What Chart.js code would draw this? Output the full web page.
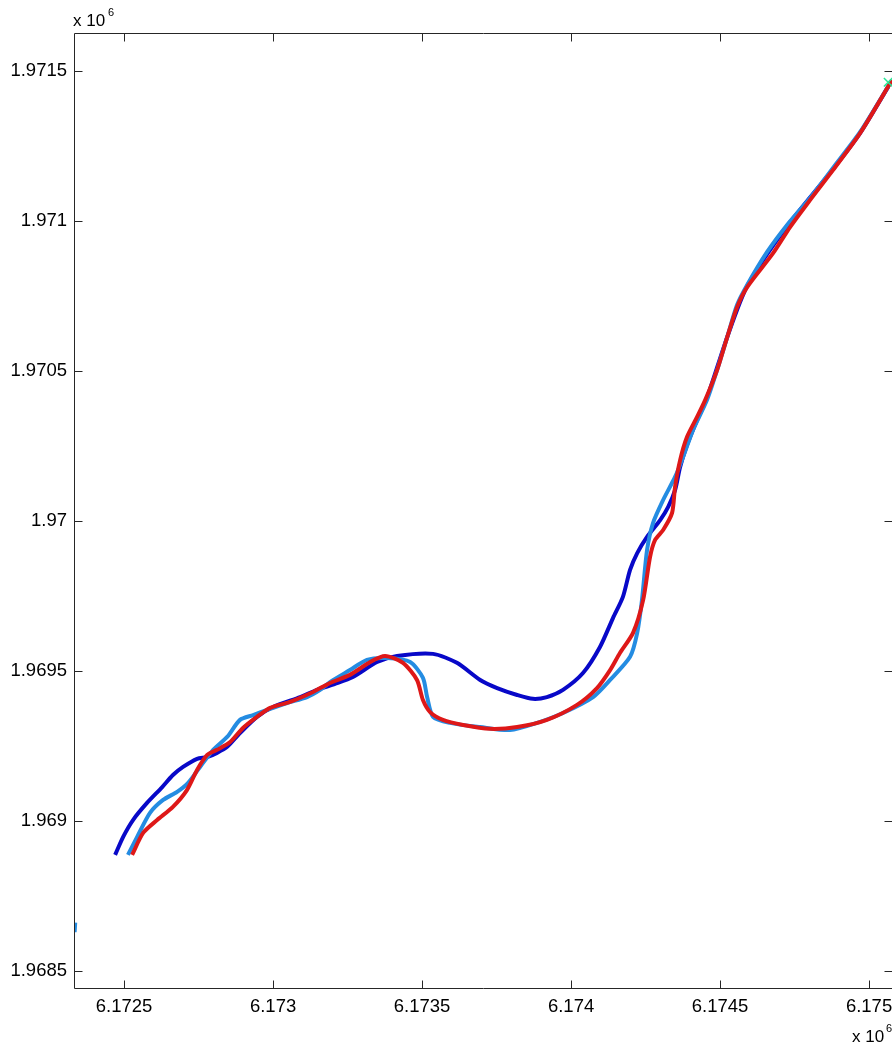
<!DOCTYPE html>
<html>
<head>
<meta charset="utf-8">
<script src="https://cdn.jsdelivr.net/npm/chart.js@4/dist/chart.umd.min.js"></script>
<style>
html,body{margin:0;padding:0;background:#fff;}
#wrap{width:892px;height:1046px;position:relative;}
</style>
</head>
<body>
<div id="wrap"><canvas id="c" width="892" height="1046"></canvas></div>
<script>
// Tick values and labels (coordinates in metres; axis labels in units of 10^6)
const xTickValues = [6172500, 6173000, 6173500, 6174000, 6174500, 6175000];
const xTickLabels = ['6.1725', '6.173', '6.1735', '6.174', '6.1745', '6.175'];
const yTickValues = [1968500, 1969000, 1969500, 1970000, 1970500, 1971000, 1971500];
const yTickLabels = ['1.9685', '1.969', '1.9695', '1.97', '1.9705', '1.971', '1.9715'];

// Dark blue track
const darkBlueX = [6172470,6172497,6172530,6172577,6172628,6172664,6172698,6172745,6172779,6172812,6172846,6172889,6172946,6173000,6173091,6173148,6173208,6173268,6173349,6173416,6173537,6173617,6173695,6173752,6173819,6173872,6173919,6173973,6174040,6174097,6174141,6174174,6174198,6174222,6174255,6174299,6174326,6174349,6174366,6174389,6174423,6174456,6174524,6174591,6174725,6174879,6174970,6175064];
const darkBlueY = [1968886,1968946,1969002,1969059,1969112,1969152,1969179,1969206,1969212,1969226,1969246,1969292,1969346,1969379,1969412,1969436,1969456,1969479,1969529,1969549,1969556,1969526,1969469,1969442,1969419,1969406,1969412,1969436,1969492,1969579,1969676,1969746,1969836,1969892,1969946,1970002,1970046,1970102,1970179,1970252,1970336,1970409,1970612,1970782,1970982,1971172,1971292,1971446];

// Light blue track
const lightBlueX = [6172513,6172544,6172587,6172631,6172678,6172715,6172755,6172799,6172846,6172889,6172933,6172980,6173047,6173114,6173158,6173191,6173258,6173315,6173383,6173460,6173503,6173517,6173537,6173594,6173695,6173795,6173886,6173973,6174074,6174131,6174198,6174222,6174238,6174255,6174275,6174309,6174349,6174376,6174409,6174456,6174490,6174524,6174557,6174591,6174658,6174725,6174802,6174879,6174970,6175071];
const lightBlueY = [1968886,1968946,1969026,1969069,1969096,1969126,1969179,1969236,1969279,1969336,1969352,1969369,1969392,1969412,1969436,1969462,1969502,1969536,1969542,1969529,1969476,1969412,1969346,1969326,1969312,1969302,1969326,1969359,1969412,1969469,1969546,1969626,1969736,1969902,1969992,1970069,1970146,1970212,1970302,1970402,1970502,1970612,1970719,1970786,1970896,1970986,1971076,1971176,1971296,1971459];

// Red track
const redX = [6172527,6172564,6172611,6172664,6172711,6172745,6172779,6172812,6172856,6172899,6172946,6172990,6173057,6173134,6173191,6173258,6173326,6173376,6173436,6173483,6173503,6173527,6173570,6173638,6173728,6173819,6173919,6174020,6174087,6174131,6174164,6174208,6174242,6174265,6174282,6174309,6174339,6174349,6174366,6174389,6174423,6174450,6174490,6174524,6174557,6174591,6174678,6174735,6174802,6174879,6174970,6175077];
const redY = [1968886,1968959,1969002,1969046,1969102,1969169,1969219,1969236,1969262,1969309,1969346,1969376,1969396,1969429,1969459,1969486,1969529,1969549,1969526,1969469,1969402,1969362,1969336,1969319,1969306,1969312,1969336,1969386,1969442,1969502,1969559,1969626,1969736,1969879,1969936,1969969,1970026,1970112,1970202,1970279,1970346,1970402,1970502,1970612,1970712,1970779,1970892,1970979,1971069,1971169,1971292,1971469];

// Small light-blue fragment at the left edge
const fragX = [6172334, 6172336];
const fragY = [1968628, 1968660];

// Green end marker
const markerX = [6175064];
const markerY = [1971462];

const X_MIN = 6172332, X_MAX = 6175077;
const Y_MIN = 1968442, Y_MAX = 1971626;

function pts(xs, ys){ return xs.map((x,i)=>({x:x, y:ys[i]})); }

const FONT = '"Liberation Sans", Arial, Helvetica, sans-serif';

const framePlugin = {
  id: 'frame',
  afterDraw(chart){
    const ctx = chart.ctx, ca = chart.chartArea;
    const xs = chart.scales.x, ys = chart.scales.y;
    ctx.save();
    ctx.strokeStyle = '#262626';
    ctx.lineWidth = 1;
    ctx.beginPath();
    const L = Math.round(ca.left)+0.5, R = Math.round(ca.right)+0.5, T = Math.round(ca.top)+0.5, B = Math.round(ca.bottom)+0.5;
    ctx.moveTo(L,T); ctx.lineTo(R,T); ctx.lineTo(R,B); ctx.lineTo(L,B); ctx.closePath();
    const tl = 8;
    xTickValues.forEach(v=>{
      const p = Math.round(xs.getPixelForValue(v))+0.5;
      ctx.moveTo(p,B); ctx.lineTo(p,B-tl);
      ctx.moveTo(p,T); ctx.lineTo(p,T+tl);
    });
    yTickValues.forEach(v=>{
      const p = Math.round(ys.getPixelForValue(v))+0.5;
      ctx.moveTo(L,p); ctx.lineTo(L+tl,p);
      ctx.moveTo(R,p); ctx.lineTo(R-tl,p);
    });
    ctx.stroke();
    // exponent labels
    ctx.fillStyle = '#000';
    ctx.textBaseline = 'alphabetic';
    ctx.textAlign = 'left';
    ctx.font = '17px ' + FONT;
    ctx.fillText('x 10', 73, 26);
    ctx.fillText('x 10', 852, 1042);
    ctx.font = '11px ' + FONT;
    ctx.fillText('6', 108, 16);
    ctx.fillText('6', 886, 1032);
    ctx.restore();
  }
};

Chart.defaults.font.family = FONT;
Chart.defaults.font.size = 18.5;
Chart.defaults.color = '#000';

new Chart(document.getElementById('c'), {
  type: 'line',
  data: {
    datasets: [
      { label: 'marker', type: 'scatter', data: pts(markerX, markerY), showLine: false,
        pointStyle: 'crossRot', pointRadius: 6, borderColor: 'rgb(40,230,150)', borderWidth: 1.5,
        backgroundColor: 'rgb(40,230,150)', order: 0, clip: false },
      { label: 'red', data: pts(redX, redY), borderColor: 'rgb(222,24,24)', borderWidth: 4,
        pointRadius: 0, tension: 0.25, fill: false, order: 1 },
      { label: 'lightblue', data: pts(lightBlueX, lightBlueY), borderColor: 'rgb(36,140,226)', borderWidth: 4,
        pointRadius: 0, tension: 0.25, fill: false, order: 2 },
      { label: 'frag', data: pts(fragX, fragY), borderColor: 'rgb(36,140,226)', borderWidth: 4,
        pointRadius: 0, fill: false, order: 3 },
      { label: 'darkblue', data: pts(darkBlueX, darkBlueY), borderColor: 'rgb(8,8,200)', borderWidth: 4,
        pointRadius: 0, tension: 0.25, fill: false, order: 4 }
    ]
  },
  options: {
    responsive: false,
    animation: false,
    layout: { autoPadding: false, padding: { top: 33, right: 0, left: 0, bottom: 0 } },
    plugins: { legend: { display: false }, tooltip: { enabled: false } },
    scales: {
      x: {
        type: 'linear', min: X_MIN, max: X_MAX,
        grid: { display: false, drawTicks: false },
        border: { display: false },
        afterBuildTicks: s => { s.ticks = xTickValues.map(v=>({value:v})); },
        afterFit: s => { s.height = 58; s.paddingLeft = 0; s.paddingRight = 0; },
        ticks: {
          padding: 8, maxRotation: 0, autoSkip: false,
          callback: (v) => { const i = xTickValues.indexOf(v); return i >= 0 ? xTickLabels[i] : ''; }
        }
      },
      y: {
        type: 'linear', min: Y_MIN, max: Y_MAX,
        grid: { display: false, drawTicks: false },
        border: { display: false },
        afterBuildTicks: s => { s.ticks = yTickValues.map(v=>({value:v})); },
        afterFit: s => { s.width = 74; s.paddingTop = 0; s.paddingBottom = 0; },
        ticks: {
          padding: 7, autoSkip: false,
          callback: (v) => { const i = yTickValues.indexOf(v); return i >= 0 ? yTickLabels[i] : ''; }
        }
      }
    }
  },
  plugins: [framePlugin]
});
</script>
</body>
</html>
